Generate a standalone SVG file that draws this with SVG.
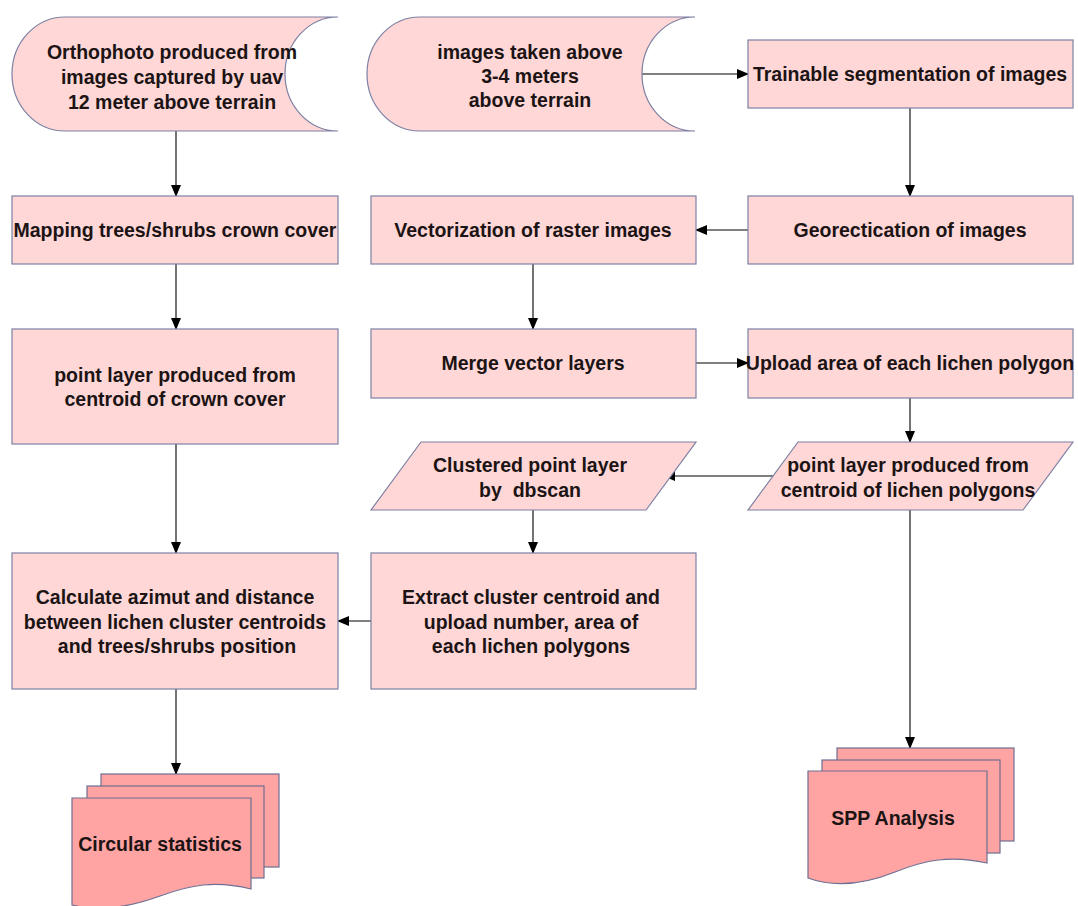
<svg xmlns="http://www.w3.org/2000/svg" width="1078" height="906" viewBox="0 0 1078 906">
<defs>
<style>
.box{fill:#ffd7d7;stroke:#7d80a3;stroke-width:1.2}
.doc{fill:#ffa3a3;stroke:#6e6f92;stroke-width:1.2}
.t{font-family:"Liberation Sans",Arial,sans-serif;font-weight:bold;font-size:19.5px;fill:#1c1414;text-anchor:middle}
.c{stroke:#000;stroke-width:1.1;fill:none;marker-end:url(#ah)}
</style>
<marker id="ah" markerWidth="12" markerHeight="10" refX="11" refY="5" orient="auto" markerUnits="userSpaceOnUse">
<path d="M0,0 L12,5 L0,10 Z" fill="#000"/>
</marker>
</defs>
<rect width="1078" height="906" fill="#fff"/>

<g id="connectors">
<line class="c" x1="176" y1="131" x2="176" y2="196"/>
<line class="c" x1="176" y1="264" x2="176" y2="329"/>
<line class="c" x1="176" y1="444" x2="176" y2="553"/>
<line class="c" x1="176" y1="689" x2="176" y2="774"/>
<line class="c" x1="642" y1="74" x2="748" y2="74"/>
<line class="c" x1="910" y1="108" x2="910" y2="196"/>
<line class="c" x1="748" y1="230" x2="696" y2="230"/>
<line class="c" x1="533" y1="264" x2="533" y2="329"/>
<line class="c" x1="696" y1="363" x2="748" y2="363"/>
<line class="c" x1="910" y1="398" x2="910" y2="442"/>
<line class="c" x1="779" y1="476" x2="664" y2="476"/>
<line class="c" x1="533" y1="510" x2="533" y2="553"/>
<line class="c" x1="371" y1="621" x2="338" y2="621"/>
<line class="c" x1="910" y1="510" x2="910" y2="748"/>
</g>

<g id="ortho">
<path class="box" d="M65 17 L338 17 A53 57 0 0 0 338 131 L65 131 A53 57 0 0 1 65 17 Z"/>
<text class="t" x="172" y="59">Orthophoto produced from</text>
<text class="t" x="172" y="84">images captured by uav</text>
<text class="t" x="172" y="109">12 meter above terrain</text>
</g>

<g id="images34">
<path class="box" d="M420 17 L695 17 A53 57 0 0 0 695 131 L420 131 A53 57 0 0 1 420 17 Z"/>
<text class="t" x="530" y="59">images taken above</text>
<text class="t" x="530" y="83">3-4 meters</text>
<text class="t" x="530" y="107">above terrain</text>
</g>

<g id="trainable">
<rect class="box" x="748" y="40" width="325" height="68"/>
<text class="t" x="910" y="81">Trainable segmentation of images</text>
</g>

<g id="mapping">
<rect class="box" x="12" y="196" width="326" height="68"/>
<text class="t" x="175" y="237">Mapping trees/shrubs crown cover</text>
</g>

<g id="vectorization">
<rect class="box" x="371" y="196" width="325" height="68"/>
<text class="t" x="533" y="237">Vectorization of raster images</text>
</g>

<g id="georect">
<rect class="box" x="748" y="196" width="325" height="68"/>
<text class="t" x="910" y="237">Georectication of images</text>
</g>

<g id="pointcrown">
<rect class="box" x="12" y="329" width="326" height="115"/>
<text class="t" x="175" y="382">point layer produced from</text>
<text class="t" x="175" y="406">centroid of crown cover</text>
</g>

<g id="merge">
<rect class="box" x="371" y="329" width="325" height="69"/>
<text class="t" x="533" y="370">Merge vector layers</text>
</g>

<g id="upload">
<rect class="box" x="748" y="329" width="325" height="69"/>
<text class="t" x="910" y="370">Upload area of each lichen polygon</text>
</g>

<g id="clustered">
<path class="box" d="M421 442 L696 442 L646 510 L371 510 Z"/>
<text class="t" x="530" y="472">Clustered point layer</text>
<text class="t" x="530" y="497">by&#160; dbscan</text>
</g>

<g id="pointlichen">
<path class="box" d="M798 442 L1073 442 L1023 510 L748 510 Z"/>
<text class="t" x="908" y="472">point layer produced from</text>
<text class="t" x="908" y="497">centroid of lichen polygons</text>
</g>

<g id="calculate">
<rect class="box" x="12" y="553" width="326" height="136"/>
<text class="t" x="175" y="604">Calculate azimut and distance</text>
<text class="t" x="175" y="628.5">between lichen cluster centroids</text>
<text class="t" x="177" y="653">and trees/shrubs position</text>
</g>

<g id="extract">
<rect class="box" x="371" y="553" width="325" height="136"/>
<text class="t" x="531" y="604">Extract cluster centroid and</text>
<text class="t" x="531" y="628.5">upload number, area of</text>
<text class="t" x="531" y="653">each lichen polygons</text>
</g>

<g id="circular">
<rect class="doc" x="101" y="774" width="178" height="93"/>
<rect class="doc" x="87" y="786" width="177" height="92"/>
<path class="doc" d="M72 798 L251 798 L251 889 C215 880 190 885 160 896 C130 907 100 912 72 905 Z"/>
<text class="t" x="160" y="851">Circular statistics</text>
</g>

<g id="spp">
<rect class="doc" x="837" y="748" width="177" height="93"/>
<rect class="doc" x="822" y="760" width="178" height="93"/>
<path class="doc" d="M808 771 L987 771 L987 863 C950 855 925 860 895 872 C865 884 835 888 808 878 Z"/>
<text class="t" x="893" y="825">SPP Analysis</text>
</g>
</svg>
